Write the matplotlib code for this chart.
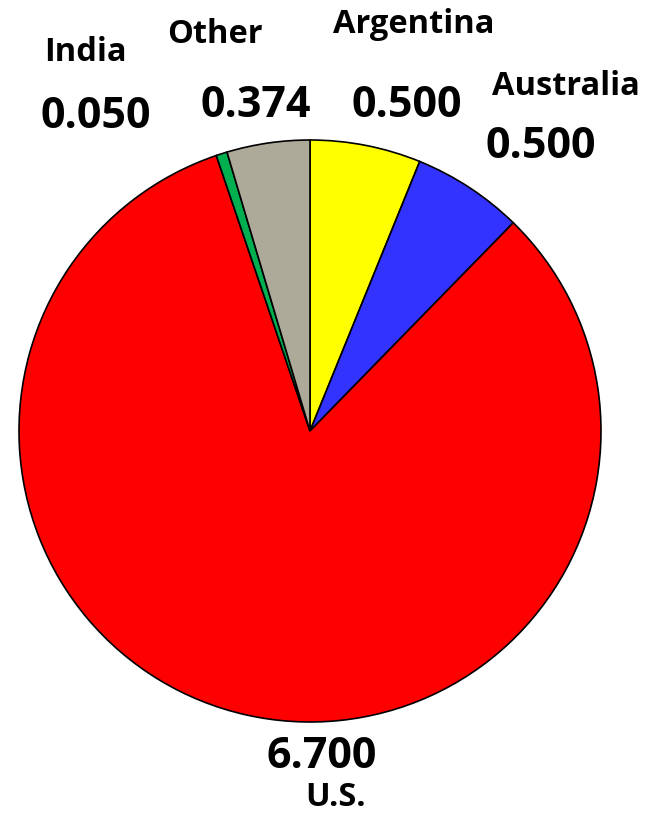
import matplotlib.pyplot as plt

countries = ["Argentina", "Australia", "U.S.", "India", "Other"]
values = [0.500, 0.500, 6.700, 0.050, 0.374]
colors = ["#FFFF00", "#3333FF", "#FF0000", "#00B050", "#AEAA9A"]

# label centres in pixel coords (x, baseline y from top)
name_pos = {"Argentina": (414, 33), "Australia": (566, 95), "U.S.": (336, 806),
            "India": (85, 61), "Other": (215, 43)}
value_pos = {"Argentina": (407, 117), "Australia": (541, 158), "U.S.": (322, 768),
             "India": (96, 128), "Other": (256, 117)}

W, H = 656, 815
fig = plt.figure(figsize=(W / 100, H / 100), dpi=100)
ax = fig.add_axes([0, 0, 1, 1])

ax.pie(values, colors=colors, startangle=90, counterclock=False,
       center=(310, H - 431), radius=291, frame=True,
       wedgeprops=dict(edgecolor="black", linewidth=1.2))
ax.set_xlim(0, W)
ax.set_ylim(0, H)
ax.set_aspect("equal")
ax.axis("off")

font = "Open Sans"
for name, val in zip(countries, values):
    x, y = name_pos[name]
    ax.text(x, H - y, name, ha="center", va="baseline", fontsize=23.5,
            fontweight="bold", family=font)
    x, y = value_pos[name]
    ax.text(x, H - y, f"{val:.3f}", ha="center", va="baseline", fontsize=31,
            fontweight="bold", family=font)

fig.savefig("out.png", dpi=100)
